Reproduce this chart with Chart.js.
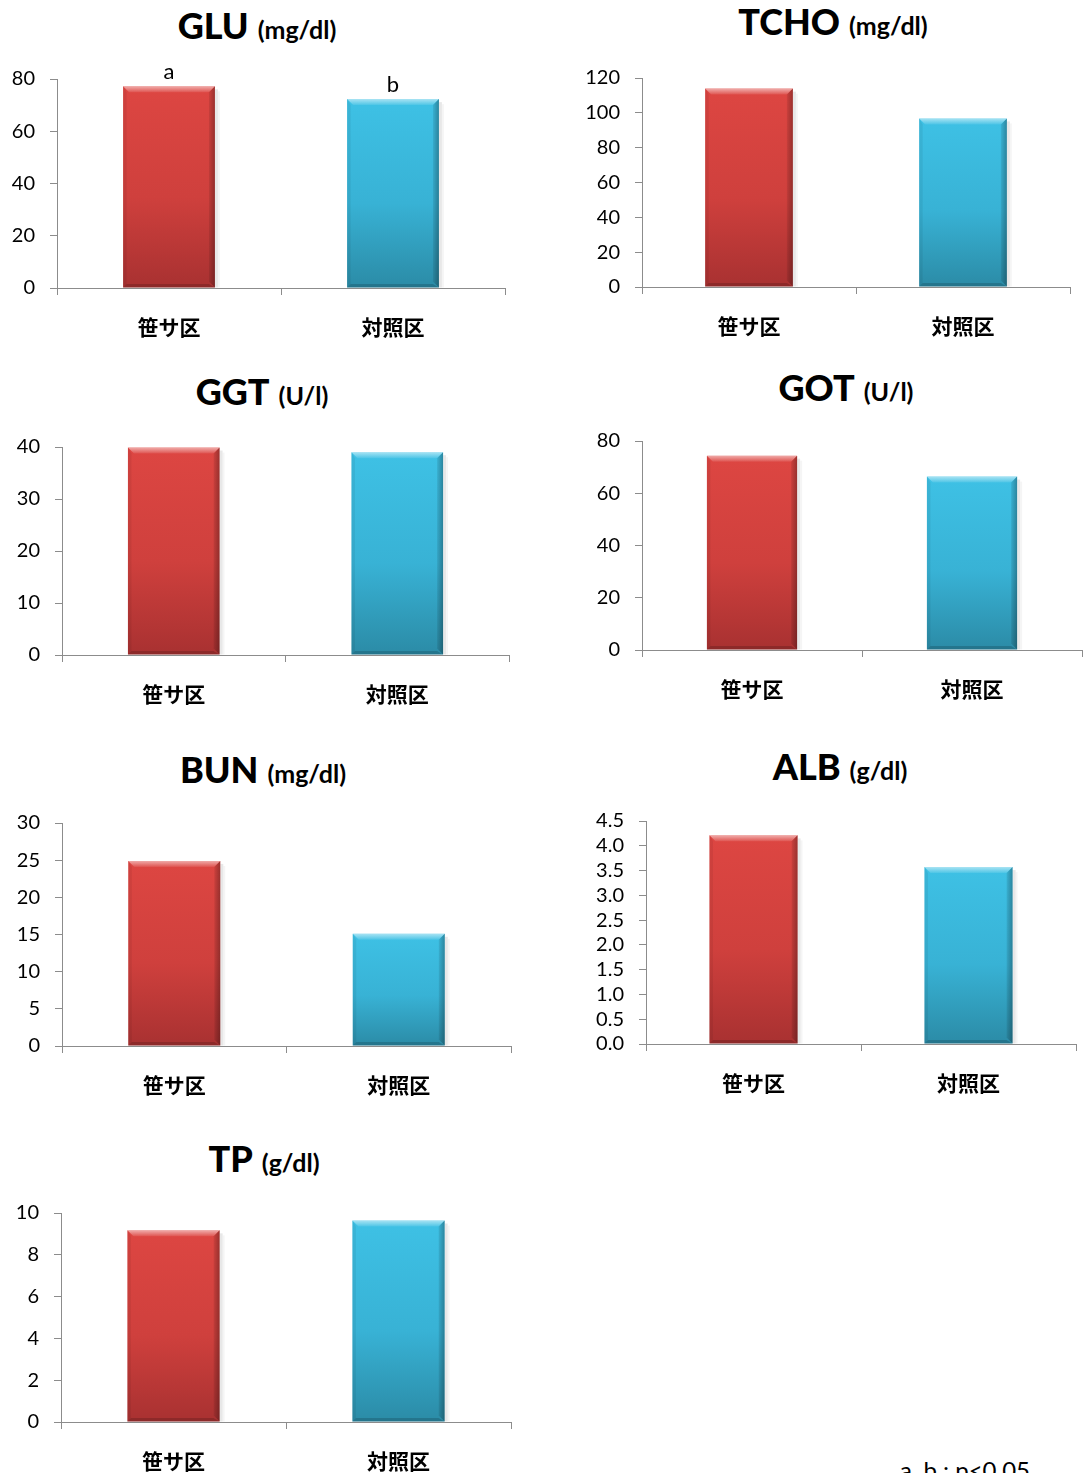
<!DOCTYPE html>
<html>
<head>
<meta charset="utf-8">
<script src="https://cdn.jsdelivr.net/npm/chart.js@4.4.1/dist/chart.umd.min.js"></script>
<style>
  html, body { margin: 0; padding: 0; background: #fff; }
  body { width: 1092px; height: 1473px; position: relative; overflow: hidden; font-family: Lato, "Noto Sans", sans-serif; color: #000; }
  .panel { position: absolute; }
  .title { position: absolute; white-space: nowrap; font-weight: 900; line-height: 1; transform: translateX(-50%); }
  .title .name { font-size: 36px; }
  .title .unit { font-size: 25px; margin-left: 9px; font-weight: 700; }
  .note { position: absolute; font-size: 24px; white-space: nowrap; line-height: 1; }
</style>
</head>
<body>
<script>
// Blood chemistry: sasa-fed group vs control group
const categories = ['笹サ区', '対照区'];

const gluValues  = [77.2, 72.3];
const tchoValues = [113.9, 96.8];
const ggtValues  = [39.9, 39.0];
const gotValues  = [74.4, 66.4];
const bunValues  = [24.9, 15.1];
const albValues  = [4.21, 3.57];
const tpValues   = [9.17, 9.64];

// significance letters shown above the GLU bars
const gluLetters = ['a', 'b'];

// y-axis ranges: [max, step, decimals]
const gluAxis  = [80, 20, 0];
const tchoAxis = [120, 20, 0];
const ggtAxis  = [40, 10, 0];
const gotAxis  = [80, 20, 0];
const bunAxis  = [30, 5, 0];
const albAxis  = [4.5, 0.5, 1];
const tpAxis   = [10, 2, 0];

const noteText = 'a, b : p<0.05';

// page layout of each small chart (plot frame in page pixels)
const panels = [
  { name: 'GLU',  unit: '(mg/dl)', values: gluValues,  axis: gluAxis,  letters: gluLetters,
    axisX: 57,  top: 77.3,  zero: 288.3,  right: 505,  titleX: 257, titleBase: 39 },
  { name: 'TCHO', unit: '(mg/dl)', values: tchoValues, axis: tchoAxis, letters: null,
    axisX: 642, top: 76,    zero: 286.7,  right: 1070, titleX: 833, titleBase: 35 },
  { name: 'GGT',  unit: '(U/l)',   values: ggtValues,  axis: ggtAxis,  letters: null,
    axisX: 62,  top: 444.7, zero: 655,    right: 509,  titleX: 262, titleBase: 405 },
  { name: 'GOT',  unit: '(U/l)',   values: gotValues,  axis: gotAxis,  letters: null,
    axisX: 642, top: 439,   zero: 650,    right: 1082, titleX: 846, titleBase: 401 },
  { name: 'BUN',  unit: '(mg/dl)', values: bunValues,  axis: bunAxis,  letters: null,
    axisX: 62,  top: 821.3, zero: 1045.7, right: 511,  titleX: 263, titleBase: 783 },
  { name: 'ALB',  unit: '(g/dl)',  values: albValues,  axis: albAxis,  letters: null,
    axisX: 646, top: 819,   zero: 1044.3, right: 1076, titleX: 840, titleBase: 780 },
  { name: 'TP',   unit: '(g/dl)',  values: tpValues,   axis: tpAxis,   letters: null,
    axisX: 61,  top: 1210.7, zero: 1421.7, right: 511, titleX: 264, titleBase: 1172 }
];

const AXIS_GREY = '#8c8c8c';
const barStops = [
  ['#dd4642', '#cf403d', '#a83131'],   // red
  ['#3ec1e5', '#38b2d5', '#2b8ba6']    // blue
];

function barGradient(ctx) {
  const chart = ctx.chart;
  const y = chart.scales.y;
  if (!chart.chartArea || !y) return barStops[ctx.dataIndex][1];
  const v = ctx.dataset.data[ctx.dataIndex];
  const g = chart.ctx.createLinearGradient(0, y.getPixelForValue(v), 0, y.getPixelForValue(0));
  const s = barStops[ctx.dataIndex];
  g.addColorStop(0, s[0]);
  g.addColorStop(0.55, s[1]);
  g.addColorStop(1, s[2]);
  return g;
}

// soft shadow behind each bar and bevelled edges on top of it
const bevelPlugin = {
  id: 'bevel',
  beforeDatasetsDraw(chart) {
    const ctx = chart.ctx;
    chart.getDatasetMeta(0).data.forEach(bar => {
      const x1 = bar.x + bar.width / 2;
      const y0 = Math.min(bar.y, bar.base), y1 = Math.max(bar.y, bar.base);
      ctx.save();
      ctx.fillStyle = 'rgba(0,0,0,0.09)';
      ctx.fillRect(x1, y0 + 3, 3, y1 - y0 - 3);
      ctx.fillStyle = 'rgba(0,0,0,0.04)';
      ctx.fillRect(x1 + 3, y0 + 5, 2, y1 - y0 - 5);
      ctx.restore();
    });
  },
  afterDatasetsDraw(chart) {
    const ctx = chart.ctx;
    const b = 6;
    chart.getDatasetMeta(0).data.forEach(bar => {
      const x0 = bar.x - bar.width / 2, x1 = bar.x + bar.width / 2;
      const y0 = Math.min(bar.y, bar.base), y1 = Math.max(bar.y, bar.base);
      ctx.save();
      // top bevel
      let g = ctx.createLinearGradient(0, y0, 0, y0 + b);
      g.addColorStop(0, 'rgba(255,255,255,0.55)');
      g.addColorStop(1, 'rgba(255,255,255,0.08)');
      ctx.fillStyle = g;
      ctx.beginPath();
      ctx.moveTo(x0, y0); ctx.lineTo(x1, y0); ctx.lineTo(x1 - b, y0 + b); ctx.lineTo(x0 + b, y0 + b);
      ctx.closePath(); ctx.fill();
      // left bevel
      ctx.fillStyle = 'rgba(0,0,0,0.06)';
      ctx.beginPath();
      ctx.moveTo(x0, y0); ctx.lineTo(x0 + b * 0.6, y0 + b); ctx.lineTo(x0 + b * 0.6, y1 - b * 0.6); ctx.lineTo(x0, y1);
      ctx.closePath(); ctx.fill();
      // right bevel
      g = ctx.createLinearGradient(x1 - b, 0, x1, 0);
      g.addColorStop(0, 'rgba(0,0,0,0.08)');
      g.addColorStop(1, 'rgba(0,0,0,0.30)');
      ctx.fillStyle = g;
      ctx.beginPath();
      ctx.moveTo(x1, y0); ctx.lineTo(x1, y1); ctx.lineTo(x1 - b, y1 - b); ctx.lineTo(x1 - b, y0 + b);
      ctx.closePath(); ctx.fill();
      // bottom bevel
      ctx.fillStyle = 'rgba(0,0,0,0.16)';
      ctx.beginPath();
      ctx.moveTo(x0, y1); ctx.lineTo(x1, y1); ctx.lineTo(x1 - b, y1 - b * 0.6); ctx.lineTo(x0 + b * 0.6, y1 - b * 0.6);
      ctx.closePath(); ctx.fill();
      ctx.restore();
    });
  }
};

// letters written just above the bars
const letterPlugin = {
  id: 'letters',
  afterDatasetsDraw(chart, args, opts) {
    const letters = opts.letters;
    if (!letters) return;
    const ctx = chart.ctx;
    ctx.save();
    ctx.font = '22px Lato, "Noto Sans", sans-serif';
    ctx.fillStyle = '#000';
    ctx.textAlign = 'center';
    ctx.textBaseline = 'alphabetic';
    chart.getDatasetMeta(0).data.forEach((bar, i) => {
      ctx.fillText(letters[i], bar.x, bar.y - 7);
    });
    ctx.restore();
  }
};

const Y_W = 62, PAD_T = 25, X_H = 62, PAD_R = 4;

panels.forEach(p => {
  const left = Math.round(p.axisX - Y_W);
  const top = Math.round(p.top - PAD_T);
  const w = Math.round(p.right - left + PAD_R);
  const h = Math.round(p.zero - top + X_H);

  const title = document.createElement('div');
  title.className = 'title';
  title.style.left = p.titleX + 'px';
  title.style.top = (p.titleBase - 32) + 'px';
  const n = document.createElement('span'); n.className = 'name'; n.textContent = p.name;
  const u = document.createElement('span'); u.className = 'unit'; u.textContent = p.unit;
  title.appendChild(n); title.appendChild(u);
  document.body.appendChild(title);

  const wrap = document.createElement('div');
  wrap.className = 'panel';
  wrap.style.left = left + 'px';
  wrap.style.top = top + 'px';
  wrap.style.width = w + 'px';
  wrap.style.height = h + 'px';
  const canvas = document.createElement('canvas');
  canvas.width = w; canvas.height = h;
  wrap.appendChild(canvas);
  document.body.appendChild(wrap);

  const [max, step, dec] = p.axis;
  new Chart(canvas, {
    type: 'bar',
    data: {
      labels: categories,
      datasets: [{
        data: p.values,
        backgroundColor: barGradient,
        borderWidth: 0,
        barPercentage: 0.41,
        categoryPercentage: 1
      }]
    },
    options: {
      responsive: false,
      animation: false,
      devicePixelRatio: 1,
      layout: { padding: { top: PAD_T, right: PAD_R, left: 0, bottom: 0 } },
      plugins: {
        legend: { display: false },
        tooltip: { enabled: false },
        letters: { letters: p.letters }
      },
      scales: {
        x: {
          grid: { display: true, offset: true, drawOnChartArea: false, drawTicks: true, tickLength: 7, color: AXIS_GREY },
          border: { display: true, color: AXIS_GREY, width: 1 },
          ticks: { color: '#000', padding: 19, maxRotation: 0,
                   font: { family: '"Noto Sans CJK JP", sans-serif', size: 21, weight: 'bold' } },
          afterFit(scale) { scale.height = X_H; }
        },
        y: {
          min: 0, max: max,
          grid: { display: true, drawOnChartArea: false, drawTicks: true, tickLength: 7, color: AXIS_GREY },
          border: { display: true, color: AXIS_GREY, width: 1 },
          ticks: { stepSize: step, color: '#000', padding: 15, autoSkip: false,
                   font: { family: 'Lato, "Noto Sans", sans-serif', size: 20 },
                   callback: v => Number(v).toFixed(dec) },
          afterFit(scale) { scale.width = Y_W; }
        }
      }
    },
    plugins: [bevelPlugin, letterPlugin]
  });
});

const note = document.createElement('div');
note.className = 'note';
note.style.left = '900px';
note.style.top = '1458px';
note.textContent = noteText;
document.body.appendChild(note);
</script>
</body>
</html>
